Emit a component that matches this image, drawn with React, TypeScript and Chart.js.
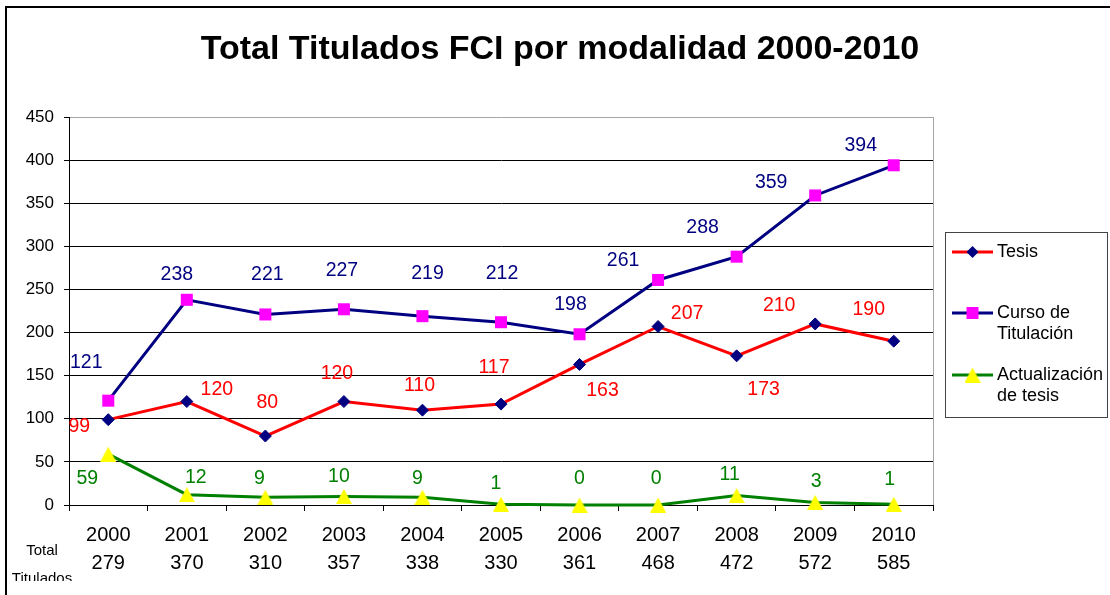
import React, { useEffect, useRef } from "react";
import { Chart, registerables } from "chart.js";

Chart.register(...registerables);

// ---------- data ----------
const chartTitle = "Total Titulados FCI por modalidad 2000-2010";
const years = ["2000", "2001", "2002", "2003", "2004", "2005", "2006", "2007", "2008", "2009", "2010"];
const totals = ["279", "370", "310", "357", "338", "330", "361", "468", "472", "572", "585"];
const tesis = [99, 120, 80, 120, 110, 117, 163, 207, 173, 210, 190];
const curso = [121, 238, 221, 227, 219, 212, 198, 261, 288, 359, 394];
const actualizacion = [59, 12, 9, 10, 9, 1, 0, 0, 11, 3, 1];
const yMin = 0;
const yMax = 450;
const yStep = 50;
const legendNames = [["Tesis"], ["Curso de", "Titulación"], ["Actualización", "de tesis"]];
const totalCaption = ["Total", "Titulados"];

// ---------- styling (label offsets in px relative to each point) ----------
const tesisLabelOffsets = [[-29, 7], [30, -12], [2, -33], [-7, -28], [-3, -25], [-7, -36], [23, 26], [29, -13], [27, 34], [-36, -18], [-25, -32]];
const cursoLabelOffsets = [[-22, -38], [-10, -25], [2, -40], [-2, -39], [5, -43], [1, -49], [-9, -30], [-35, -19], [-34, -29], [-44, -13], [-33, -20]];
const actLabelOffsets = [[-21, 24], [9, -17], [-6, -19], [-5, -20], [-5, -19], [-5, -21], [0, -26], [-2, -26], [-7, -21], [1, -21], [-4, -25]];

const FONT = "'Liberation Sans', Arial, sans-serif";
const RED = "#FF0000";
const NAVY = "#000080";
const MAGENTA = "#FF00FF";
const GREEN = "#008000";
const YELLOW = "#FFFF00";

function makeTriangle(): HTMLCanvasElement {
  const c = document.createElement("canvas");
  c.width = 16;
  c.height = 15;
  const g = c.getContext("2d")!;
  g.fillStyle = YELLOW;
  g.beginPath();
  g.moveTo(8, 0);
  g.lineTo(16, 15);
  g.lineTo(0, 15);
  g.closePath();
  g.fill();
  return c;
}

export default function App() {
  const ref = useRef<HTMLCanvasElement | null>(null);

  useEffect(() => {
    if (!ref.current) return;
    const tri = makeTriangle();
    const labelOffsets = [tesisLabelOffsets, cursoLabelOffsets, actLabelOffsets];
    const labelColors = [RED, NAVY, GREEN];

    const overlay = {
      id: "overlay",
      afterDatasetsDraw(chart: any) {
        const ctx = chart.ctx;
        ctx.save();
        ctx.font = `19.5px ${FONT}`;
        ctx.textAlign = "center";
        ctx.textBaseline = "middle";
        chart.data.datasets.forEach((ds: any, d: number) => {
          const meta = chart.getDatasetMeta(d);
          ctx.fillStyle = labelColors[d];
          meta.data.forEach((el: any, i: number) => {
            const off = labelOffsets[d][i];
            ctx.fillText(String(ds.data[i]), el.x + off[0], el.y + off[1]);
          });
        });
        ctx.restore();
      },
      afterDraw(chart: any) {
        const ctx = chart.ctx;
        const a = chart.chartArea;
        ctx.save();
        // outer border
        ctx.fillStyle = "#000";
        ctx.fillRect(5, 6, 2, 600);
        ctx.fillRect(5, 6, 1120, 2);
        // plot right border
        ctx.strokeStyle = "#a6a6a6";
        ctx.lineWidth = 1;
        ctx.beginPath();
        ctx.moveTo(Math.round(a.right) + 0.5, a.top);
        ctx.lineTo(Math.round(a.right) + 0.5, a.bottom);
        ctx.stroke();
        // title
        ctx.fillStyle = "#000";
        ctx.font = `bold 34px ${FONT}`;
        ctx.textAlign = "center";
        ctx.textBaseline = "alphabetic";
        ctx.fillText(chartTitle, 560, 59);
        // total titulados caption
        ctx.font = `15px ${FONT}`;
        ctx.fillText(totalCaption[0], 42, 555);
        ctx.save();
        ctx.beginPath();
        ctx.rect(0, 0, 300, 581);
        ctx.clip();
        ctx.fillText(totalCaption[1], 42, 583);
        ctx.restore();
        // legend
        ctx.strokeStyle = "#444";
        ctx.lineWidth = 1;
        ctx.strokeRect(945.5, 232.5, 162, 185);
        const rows = [252, 313, 375];
        const lineColors = [RED, NAVY, GREEN];
        ctx.font = `18px ${FONT}`;
        ctx.textAlign = "left";
        ctx.textBaseline = "middle";
        rows.forEach((y, k) => {
          ctx.strokeStyle = lineColors[k];
          ctx.lineWidth = 3;
          ctx.beginPath();
          ctx.moveTo(952, y);
          ctx.lineTo(993, y);
          ctx.stroke();
          const cx = 972.5;
          if (k === 0) {
            ctx.fillStyle = NAVY;
            ctx.beginPath();
            ctx.moveTo(cx, y - 6);
            ctx.lineTo(cx + 6, y);
            ctx.lineTo(cx, y + 6);
            ctx.lineTo(cx - 6, y);
            ctx.closePath();
            ctx.fill();
          } else if (k === 1) {
            ctx.fillStyle = MAGENTA;
            ctx.fillRect(cx - 6, y - 6, 12, 12);
          } else {
            ctx.drawImage(tri, cx - 8, y - 7.5);
          }
          ctx.fillStyle = "#000";
          legendNames[k].forEach((t, j) => {
            ctx.fillText(t, 997, y + j * 21);
          });
        });
        ctx.restore();
      },
    };

    const chart = new Chart(ref.current, {
      type: "line",
      data: {
        labels: years.map((y, i) => [y, totals[i]]),
        datasets: [
          {
            label: legendNames[0].join(" "),
            data: tesis,
            borderColor: RED,
            borderWidth: 3,
            backgroundColor: NAVY,
            pointStyle: "rectRot",
            pointRadius: 6,
            pointBackgroundColor: NAVY,
            pointBorderColor: NAVY,
            pointBorderWidth: 1,
            tension: 0,
            clip: false,
          },
          {
            label: legendNames[1].join(" "),
            data: curso,
            borderColor: NAVY,
            borderWidth: 3,
            backgroundColor: MAGENTA,
            pointStyle: "rect",
            pointRadius: 8.5,
            pointBackgroundColor: MAGENTA,
            pointBorderColor: MAGENTA,
            pointBorderWidth: 0,
            tension: 0,
            clip: false,
          },
          {
            label: legendNames[2].join(" "),
            data: actualizacion,
            borderColor: GREEN,
            borderWidth: 3,
            backgroundColor: YELLOW,
            pointStyle: tri as any,
            pointRadius: 8,
            tension: 0,
            clip: false,
          },
        ],
      },
      options: {
        responsive: false,
        animation: false,
        events: [],
        layout: { padding: { left: 0, top: 117, right: 177, bottom: 0 } },
        plugins: {
          legend: { display: false },
          title: { display: false },
          tooltip: { enabled: false },
        },
        scales: {
          x: {
            offset: true,
            grid: {
              offset: true,
              drawOnChartArea: false,
              drawTicks: true,
              tickLength: 6,
              color: "#000",
              lineWidth: 1,
            },
            border: { display: true, color: "#000", width: 1 },
            ticks: {
              color: "#000",
              font: { family: FONT, size: 20, lineHeight: 1.4 },
              padding: 10,
              maxRotation: 0,
              autoSkip: false,
            },
            afterFit: (s: any) => {
              s.height = 90;
            },
          },
          y: {
            min: yMin,
            max: yMax,
            ticks: {
              stepSize: yStep,
              color: "#000",
              font: { family: FONT, size: 17 },
              padding: 10,
            },
            grid: {
              color: (c: any) => (c.tick && c.tick.value === yMax ? "#a6a6a6" : "#000"),
              tickColor: "#000",
              tickLength: 5,
              drawTicks: true,
              lineWidth: 1,
            },
            border: { display: true, color: "#000", width: 1 },
            afterFit: (s: any) => {
              s.width = 69;
            },
          },
        },
      },
      plugins: [overlay],
    } as any);

    return () => chart.destroy();
  }, []);

  return (
    <div style={{ position: "absolute", left: 0, top: 0, width: 1110, height: 595, background: "#fff" }}>
      <canvas ref={ref} width={1110} height={595} style={{ width: 1110, height: 595, display: "block" }} />
    </div>
  );
}
